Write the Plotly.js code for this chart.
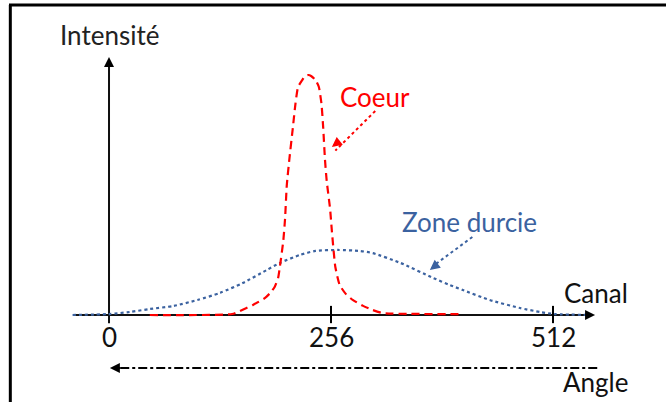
<!DOCTYPE html>
<html>
<head>
<meta charset="utf-8">
<script src="https://cdn.plot.ly/plotly-3.0.1.min.js"></script>
<style>html,body{margin:0;padding:0;background:#fff;}#chart{width:666px;height:402px;}</style>
</head>
<body>
<div id="chart"></div>
<script>
// Canal (channel) values and intensity
var coeurX = [47, 142, 151, 166, 180, 187, 191, 195, 197, 201, 203, 205, 208, 212, 215, 218, 223, 226, 230, 233, 238, 242, 245, 247, 249, 251, 255, 257, 261, 266, 273, 281, 293, 304, 316, 408];
var coeurY = [0, 0.4, 1.7, 4.2, 7.1, 9.6, 11.7, 15.4, 20, 31, 40, 54, 65, 78, 88, 95, 98, 99.6, 100, 99.6, 98, 95, 88, 78, 65, 56, 44, 35, 20, 12.5, 8.8, 6.3, 3.8, 2.1, 0.8, 0.4];
var zoneX = [-42, 0, 24, 47, 74, 102, 128, 154, 182, 197, 220, 238, 264, 289, 304, 336, 374, 393, 408, 439, 474, 497, 514, 560];
var zoneY = [0, 0.4, 1.25, 2.5, 3.75, 6.25, 9.2, 13.3, 18.75, 21.7, 25, 26.7, 27.1, 26.7, 25.8, 21.7, 15.4, 12.5, 10.4, 6.25, 2.9, 1.25, 0.4, 0];
var tickVals = [0, 256, 512];
var tickLabels = ['0', '256', '512'];
var seriesNames = ['Coeur', 'Zone durcie'];
var axisTitleY = 'Intensité';
var axisTitleX = 'Canal';
var angleLabel = 'Angle';

var RED = '#ff0000';
var BLUE = '#3b62a0';
var FONT = 'Lato, "Liberation Sans", sans-serif';
var FS = 26;

var traces = [
  {x: zoneX, y: zoneY, mode: 'lines', name: seriesNames[1],
   line: {color: BLUE, width: 2.2, dash: 'dot', shape: 'spline', smoothing: 0.6}, hoverinfo: 'skip'},
  {x: coeurX, y: coeurY, mode: 'lines', name: seriesNames[0],
   line: {color: RED, width: 2.2, dash: '8px,5px', shape: 'spline', smoothing: 0.5}, hoverinfo: 'skip'}
];

var shapes = [];
// frame (top and left edges)
shapes.push({type: 'line', xref: 'paper', yref: 'paper', x0: 0.0135, x1: 1, y0: 0.9876, y1: 0.9876, line: {color: '#000', width: 3}});
shapes.push({type: 'line', xref: 'paper', yref: 'paper', x0: 0.0155, x1: 0.0155, y0: 0, y1: 0.9876, line: {color: '#000', width: 3}});
// axis lines (below the curves)
shapes.push({type: 'line', layer: 'below', xref: 'x', yref: 'y', x0: -39, x1: 555, y0: 0, y1: 0, line: {color: '#111', width: 2}});
shapes.push({type: 'line', layer: 'below', xref: 'x', yref: 'y', x0: 0, x1: 0, y0: -3.4, y1: 104, line: {color: '#111', width: 2}});
// tick marks at 256 and 512
tickVals.slice(1).forEach(function (v) {
  shapes.push({type: 'line', xref: 'x', yref: 'y', x0: v, x1: v, y0: -3.4, y1: 3.8, line: {color: '#000', width: 2}});
});
// dotted pointer lines
shapes.push({type: 'line', xref: 'x', yref: 'y', x0: 307, y0: 85, x1: 261, y1: 68.5, line: {color: RED, width: 2, dash: 'dot'}});
shapes.push({type: 'line', xref: 'x', yref: 'y', x0: 419, y0: 32.5, x1: 374, y1: 20.5, line: {color: BLUE, width: 2, dash: 'dot'}});
// angle dash-dot line
shapes.push({type: 'line', xref: 'x', yref: 'y', x0: 563, y0: -22.1, x1: 8, y1: -22.1, line: {color: '#000', width: 2, dash: 'dashdot'}});

var ann = [];
// axis arrowheads
ann.push({x: 0, y: 107.5, ax: 0, ay: 10, xref: 'x', yref: 'y', text: '', showarrow: true,
  arrowhead: 2, arrowsize: 1, arrowwidth: 2, arrowcolor: '#000'});
ann.push({x: 560.5, y: 0, ax: -10, ay: 0, xref: 'x', yref: 'y', text: '', showarrow: true,
  arrowhead: 2, arrowsize: 1, arrowwidth: 2, arrowcolor: '#000'});
// angle arrowhead
ann.push({x: 1, y: -22.1, ax: 12, ay: 0, xref: 'x', yref: 'y', text: '', showarrow: true,
  arrowhead: 2, arrowsize: 1, arrowwidth: 2, arrowcolor: '#000'});
// pointer arrowheads
ann.push({x: 257, y: 70, ax: 9, ay: -7, xref: 'x', yref: 'y', text: '', showarrow: true,
  arrowhead: 2, arrowsize: 1, arrowwidth: 2, arrowcolor: RED});
ann.push({x: 370, y: 18.8, ax: 9, ay: -7, xref: 'x', yref: 'y', text: '', showarrow: true,
  arrowhead: 2, arrowsize: 1, arrowwidth: 2, arrowcolor: BLUE});
// tick labels
tickVals.forEach(function (v, i) {
  ann.push({x: v, y: -9.2, xref: 'x', yref: 'y', text: tickLabels[i], showarrow: false,
    font: {family: FONT, size: FS, color: '#111'}, xanchor: 'center', yanchor: 'middle'});
});
// texts
ann.push({x: 0, y: 116.7, xref: 'x', yref: 'y', text: axisTitleY, showarrow: false, font: {family: FONT, size: FS, color: '#222'}, xanchor: 'center', yanchor: 'middle'});
ann.push({x: 561.5, y: 9.2, xref: 'x', yref: 'y', text: axisTitleX, showarrow: false, font: {family: FONT, size: FS, color: '#111'}, xanchor: 'center', yanchor: 'middle'});
ann.push({x: 561.5, y: -27.9, xref: 'x', yref: 'y', text: angleLabel, showarrow: false, font: {family: FONT, size: FS, color: '#111'}, xanchor: 'center', yanchor: 'middle'});
ann.push({x: 307, y: 90.8, xref: 'x', yref: 'y', text: seriesNames[0], showarrow: false, font: {family: FONT, size: FS, color: RED}, xanchor: 'center', yanchor: 'middle'});
ann.push({x: 416, y: 38.8, xref: 'x', yref: 'y', text: seriesNames[1], showarrow: false, font: {family: FONT, size: FS, color: BLUE}, xanchor: 'center', yanchor: 'middle'});

var layout = {
  width: 666, height: 402,
  margin: {l: 0, r: 0, t: 0, b: 0},
  paper_bgcolor: '#fff', plot_bgcolor: '#fff',
  showlegend: false,
  xaxis: {range: [-125.7, 642.3], visible: false, fixedrange: true},
  yaxis: {range: [-36.25, 131.25], visible: false, fixedrange: true},
  shapes: shapes,
  annotations: ann
};

Plotly.newPlot('chart', traces, layout, {staticPlot: true, displayModeBar: false});
</script>
</body>
</html>
